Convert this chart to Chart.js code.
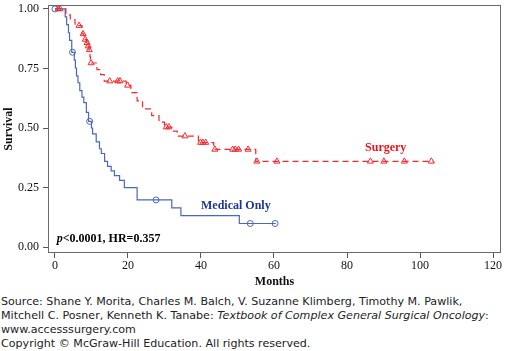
<!DOCTYPE html>
<html><head><meta charset="utf-8">
<script src="https://cdn.jsdelivr.net/npm/chart.js@4/dist/chart.umd.min.js"></script>
<style>
html,body{margin:0;padding:0;background:#fff;}
#wrap{position:absolute;left:0;top:0;width:506px;height:295px;}
#src{position:absolute;left:1px;top:295px;font-family:"DejaVu Sans",sans-serif;font-size:11.1px;line-height:14px;color:#222;white-space:nowrap;}
</style></head><body>
<div id="wrap"><canvas id="c" width="506" height="295"></canvas></div>
<div id="src">Source: Shane Y. Morita, Charles M. Balch, V. Suzanne Klimberg, Timothy M. Pawlik,<br>Mitchell C. Posner, Kenneth K. Tanabe: <i>Textbook of Complex General Surgical Oncology</i>:<br>www.accesssurgery.com<br>Copyright © McGraw-Hill Education. All rights reserved.</div>
<script>
const xTickValues = [0, 20, 40, 60, 80, 100, 120];
const yTickValues = [0, 0.25, 0.5, 0.75, 1.0];

// Medical Only: Kaplan-Meier step points (months, survival)
const medTimes = [0, 2.8, 3.2, 3.7, 4.0, 4.6, 5.3, 5.6, 5.9, 6.3, 6.8, 7.4, 7.9, 8.6, 9.2, 10.0, 10.3, 11.3, 12.2, 12.7, 13.6, 14.4, 15.4, 16.3, 17.7, 19.0, 22.5, 32.0, 34.5, 50.5, 60.5];
const medSurv  = [1.0, 0.967, 0.934, 0.90, 0.868, 0.818, 0.785, 0.752, 0.719, 0.690, 0.657, 0.630, 0.607, 0.566, 0.528, 0.500, 0.475, 0.442, 0.413, 0.393, 0.360, 0.339, 0.320, 0.300, 0.280, 0.250, 0.198, 0.165, 0.132, 0.099, 0.099];
const medCensTimes = [0, 4.8, 9.5, 27.7, 53.5, 60.3];
const medCensSurv  = [1.0, 0.818, 0.528, 0.198, 0.099, 0.099];

// Surgery
const surTimes = [0, 3.0, 4.2, 5.5, 7.4, 7.9, 8.6, 9.0, 9.3, 9.6, 9.7, 11.5, 12.5, 13.5, 19.5, 20.8, 22.5, 24.0, 26.5, 28.5, 30.0, 32.0, 33.5, 39.3, 43.5, 55.0, 103.6];
const surSurv  = [1.0, 0.975, 0.955, 0.930, 0.895, 0.872, 0.858, 0.844, 0.828, 0.800, 0.773, 0.745, 0.724, 0.697, 0.679, 0.649, 0.614, 0.580, 0.552, 0.525, 0.504, 0.487, 0.466, 0.439, 0.410, 0.360, 0.360];
const surCensTimes = [0.9, 1.4, 6.6, 7.7, 8.3, 8.8, 9.1, 9.4, 9.9, 15.0, 17.2, 17.8, 19.9, 30.5, 31.2, 35.6, 39.9, 40.5, 41.3, 43.8, 48.7, 49.4, 50.3, 52.9, 55.3, 60.8, 86.4, 90.1, 95.7, 103.1];
const surCensSurv  = [1.0, 1.0, 0.930, 0.895, 0.872, 0.858, 0.844, 0.828, 0.773, 0.697, 0.697, 0.697, 0.679, 0.504, 0.504, 0.466, 0.439, 0.439, 0.439, 0.410, 0.410, 0.410, 0.410, 0.410, 0.360, 0.360, 0.360, 0.360, 0.360, 0.360];

const RED = '#f5282d';
const BLUE = '#4a68bd';
const NAVY = '#1d3791';
const SERIF = '"Liberation Serif","Times New Roman",serif';

const pts = (xs, ys) => xs.map((x, i) => ({x: x, y: ys[i]}));

const frame = {
  id: 'frame',
  beforeDatasetsDraw(chart) {
    const {ctx, chartArea: a} = chart;
    ctx.save();
    ctx.strokeStyle = '#6a6a6a';
    ctx.lineWidth = 1;
    ctx.strokeRect(a.left + 0.5, a.top + 0.5, a.width - 1, a.height - 1);
    ctx.restore();
  },
  afterDatasetsDraw(chart) {
    const {ctx, scales: {x, y}} = chart;
    ctx.save();
    ctx.textBaseline = 'alphabetic';
    ctx.font = 'bold 12px ' + SERIF;
    ctx.fillStyle = '#e8161c';
    ctx.textAlign = 'center';
    ctx.fillText('Surgery', x.getPixelForValue(90.6), y.getPixelForValue(0.405));
    ctx.fillStyle = NAVY;
    ctx.textAlign = 'left';
    ctx.fillText('Medical Only', x.getPixelForValue(40.0), y.getPixelForValue(0.16));
    ctx.fillStyle = '#000';
    let px = x.getPixelForValue(0.5), py = y.getPixelForValue(0.02);
    ctx.font = 'italic bold 12px ' + SERIF;
    ctx.fillText('p', px, py);
    px += ctx.measureText('p').width;
    ctx.font = 'bold 12px ' + SERIF;
    ctx.fillText('<0.0001, HR=0.357', px, py);
    ctx.restore();
  }
};

new Chart(document.getElementById('c'), {
  type: 'line',
  data: {
    datasets: [
      {label: 'Surgery', data: pts(surTimes, surSurv), stepped: true, borderColor: RED, borderWidth: 1.2, borderDash: [6, 4], pointRadius: 0, fill: false},
      {label: 'Medical Only', data: pts(medTimes, medSurv), stepped: true, borderColor: BLUE, borderWidth: 1.2, pointRadius: 0, fill: false},
      {label: 'Surgery censored', data: pts(surCensTimes, surCensSurv), showLine: false, pointStyle: 'triangle', pointRadius: 3.5, borderColor: RED, borderWidth: 1, backgroundColor: 'rgba(255,255,255,0)'},
      {label: 'Medical censored', data: pts(medCensTimes, medCensSurv), showLine: false, pointStyle: 'circle', pointRadius: 3, borderColor: BLUE, borderWidth: 1, backgroundColor: 'rgba(255,255,255,0)'}
    ]
  },
  options: {
    responsive: false,
    animation: false,
    events: [],
    layout: {padding: {top: 1, right: 2, left: 0, bottom: 0}},
    plugins: {legend: {display: false}, tooltip: {enabled: false}},
    scales: {
      x: {
        type: 'linear', min: -1.905, max: 122.18,
        afterBuildTicks: s => { s.ticks = xTickValues.map(v => ({value: v})); },
        afterFit: s => { s.height = 42; s.paddingLeft = 0; s.paddingRight = 0; },
        grid: {drawOnChartArea: false, drawTicks: true, tickLength: 5, color: '#555'},
        border: {display: false},
        ticks: {font: {family: SERIF, size: 12}, color: '#111', padding: 1, maxRotation: 0, callback: v => String(v)},
        title: {display: true, text: 'Months', font: {family: SERIF, size: 12, weight: 'bold'}, color: '#111', padding: {top: 0, bottom: 6}}
      },
      y: {
        type: 'linear', min: -0.0248, max: 1.0165,
        afterBuildTicks: s => { s.ticks = yTickValues.map(v => ({value: v})); },
        afterFit: s => { s.width = 48; s.paddingTop = 0; s.paddingBottom = 0; },
        grid: {drawOnChartArea: false, drawTicks: true, tickLength: 5, color: '#555'},
        border: {display: false},
        ticks: {font: {family: SERIF, size: 12}, color: '#111', padding: 4, callback: v => Number(v).toFixed(2)},
        title: {display: true, text: 'Survival', font: {family: SERIF, size: 12, weight: 'bold'}, color: '#111', padding: {top: 2, bottom: 0}}
      }
    }
  },
  plugins: [frame]
});
</script>
</body></html>
